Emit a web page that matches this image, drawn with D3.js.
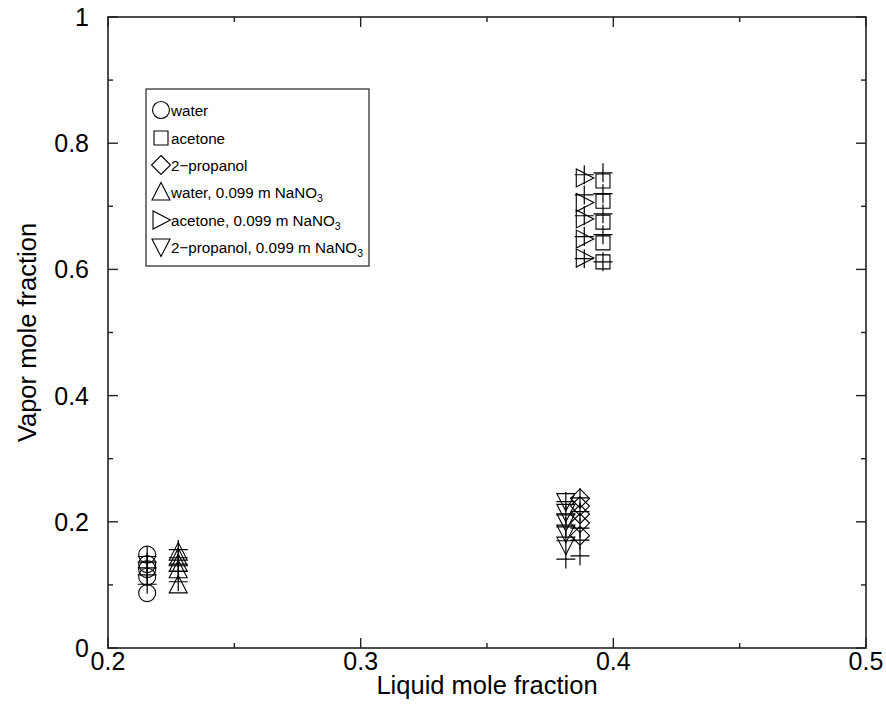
<!DOCTYPE html>
<html>
<head>
<meta charset="utf-8">
<script src="https://cdn.jsdelivr.net/npm/d3@7"></script>
<style>
  html, body { margin: 0; padding: 0; background: #fff; }
  svg { display: block; font-family: "Liberation Sans", Arial, Helvetica, sans-serif; }
</style>
</head>
<body>
<svg id="chart" width="886" height="727"></svg>
<script>
// Axis ticks
const xMajorTicks = [0.2, 0.3, 0.4, 0.5];
const xMinorTicks = [0.25, 0.35, 0.45];
const yMajorTicks = [0, 0.2, 0.4, 0.6, 0.8, 1];
const yMinorTicks = [0.1, 0.3, 0.5, 0.7, 0.9];

// Measured series: [liquid mole fraction, vapor mole fraction]
const seriesNames = ["water", "acetone", "2\u2212propanol",
  "water, 0.099 m NaNO", "acetone, 0.099 m NaNO", "2\u2212propanol, 0.099 m NaNO"];
const seriesSubscript = ["", "", "", "3", "3", "3"];
const seriesSymbols = ["circle", "square", "diamond", "triUp", "triRight", "triDown"];

const waterX = [0.2155, 0.2155, 0.2155, 0.2155, 0.2155];
const waterY = [0.148, 0.133, 0.125, 0.113, 0.087];
const acetoneX = [0.3959, 0.3959, 0.3959, 0.3959, 0.3959];
const acetoneY = [0.740, 0.708, 0.675, 0.642, 0.612];
const propanolX = [0.3868, 0.3868, 0.3868, 0.3868, 0.3868];
const propanolY = [0.237, 0.225, 0.212, 0.198, 0.178];
const waterSaltX = [0.2278, 0.2278, 0.2278, 0.2278, 0.2278];
const waterSaltY = [0.152, 0.143, 0.134, 0.124, 0.100];
const acetoneSaltX = [0.3885, 0.3885, 0.3885, 0.3885, 0.3885];
const acetoneSaltY = [0.745, 0.706, 0.680, 0.648, 0.618];
const propanolSaltX = [0.3812, 0.3812, 0.3812, 0.3812, 0.3812];
const propanolSaltY = [0.232, 0.215, 0.200, 0.182, 0.163];

// Companion points drawn with "+" markers
const waterPlusY = [0.145, 0.136, 0.127, 0.116, 0.101];
const acetonePlusY = [0.753, 0.720, 0.688, 0.655, 0.612];
const propanolPlusY = [0.238, 0.216, 0.190, 0.171, 0.146];
const waterSaltPlusY = [0.156, 0.143, 0.133, 0.122, 0.105];
const acetoneSaltPlusY = [0.750, 0.718, 0.685, 0.652, 0.617];
const propanolSaltPlusY = [0.232, 0.211, 0.192, 0.170, 0.141];

const seriesX = [waterX, acetoneX, propanolX, waterSaltX, acetoneSaltX, propanolSaltX];
const seriesY = [waterY, acetoneY, propanolY, waterSaltY, acetoneSaltY, propanolSaltY];
const plusY = [waterPlusY, acetonePlusY, propanolPlusY, waterSaltPlusY, acetoneSaltPlusY, propanolSaltPlusY];

const svg = d3.select("#chart");
const plotLeft = 108, plotRight = 866, plotTop = 17, plotBottom = 648;

const x = d3.scaleLinear().domain([0.2, 0.5]).range([plotLeft, plotRight]);
const y = d3.scaleLinear().domain([0, 1]).range([plotBottom, plotTop]);

// Symbol path builders, centred on (0,0)
function symbolPath(kind) {
  const p = d3.path();
  if (kind === "circle") {
    p.arc(0, 0, 8.5, 0, 2 * Math.PI);
  } else if (kind === "square") {
    p.rect(-7, -7, 14, 14);
  } else if (kind === "diamond") {
    p.moveTo(0, -9.5); p.lineTo(9.5, 0); p.lineTo(0, 9.5); p.lineTo(-9.5, 0); p.closePath();
  } else if (kind === "triUp") {
    p.moveTo(0, -9.5); p.lineTo(9, 8); p.lineTo(-9, 8); p.closePath();
  } else if (kind === "triDown") {
    p.moveTo(0, 9.5); p.lineTo(9, -8); p.lineTo(-9, -8); p.closePath();
  } else if (kind === "triRight") {
    p.moveTo(9.5, 0); p.lineTo(-8, 9); p.lineTo(-8, -9); p.closePath();
  } else if (kind === "plus") {
    p.moveTo(-9.5, 0); p.lineTo(9.5, 0); p.moveTo(0, -9.5); p.lineTo(0, 9.5);
  }
  return p.toString();
}

// Plot frame
const axisColor = "#222";
svg.append("rect")
  .attr("x", plotLeft).attr("y", plotTop)
  .attr("width", plotRight - plotLeft).attr("height", plotBottom - plotTop)
  .attr("fill", "none").attr("stroke", axisColor).attr("stroke-width", 1.6);

// Inward ticks on all four sides
function xTicks(vals, len) {
  vals.forEach(v => {
    svg.append("line").attr("x1", x(v)).attr("x2", x(v))
      .attr("y1", plotBottom).attr("y2", plotBottom - len)
      .attr("stroke", axisColor).attr("stroke-width", 1.4);
    svg.append("line").attr("x1", x(v)).attr("x2", x(v))
      .attr("y1", plotTop).attr("y2", plotTop + len)
      .attr("stroke", axisColor).attr("stroke-width", 1.4);
  });
}
function yTicks(vals, len) {
  vals.forEach(v => {
    svg.append("line").attr("x1", plotLeft).attr("x2", plotLeft + len)
      .attr("y1", y(v)).attr("y2", y(v))
      .attr("stroke", axisColor).attr("stroke-width", 1.4);
    svg.append("line").attr("x1", plotRight).attr("x2", plotRight - len)
      .attr("y1", y(v)).attr("y2", y(v))
      .attr("stroke", axisColor).attr("stroke-width", 1.4);
  });
}
xTicks(xMajorTicks, 10); xTicks(xMinorTicks, 5);
yTicks(yMajorTicks, 10); yTicks(yMinorTicks, 5);

// Tick labels
const fmt = v => String(v);
svg.selectAll(".xlab").data(xMajorTicks).enter().append("text")
  .attr("x", d => x(d)).attr("y", 670)
  .attr("text-anchor", "middle").attr("font-size", 25).attr("fill", "#000")
  .text(fmt);
svg.selectAll(".ylab").data(yMajorTicks).enter().append("text")
  .attr("x", 89).attr("y", d => y(d) + 9)
  .attr("text-anchor", "end").attr("font-size", 25).attr("fill", "#000")
  .text(fmt);

// Axis titles
svg.append("text").attr("x", (plotLeft + plotRight) / 2).attr("y", 694)
  .attr("text-anchor", "middle").attr("font-size", 25.5).text("Liquid mole fraction");
svg.append("text")
  .attr("transform", `translate(36,${(plotTop + plotBottom) / 2}) rotate(-90)`)
  .attr("text-anchor", "middle").attr("font-size", 25.5).text("Vapor mole fraction");

// "+" companion markers
const plot = svg.append("g");
seriesX.forEach((xs, i) => {
  plot.selectAll(null).data(plusY[i].map((v, j) => [xs[j], v])).enter()
    .append("path")
    .attr("d", symbolPath("plus"))
    .attr("transform", d => `translate(${x(d[0])},${y(d[1])})`)
    .attr("fill", "none").attr("stroke", "#000").attr("stroke-width", 1.2);
});

// Measured points
seriesX.forEach((xs, i) => {
  plot.selectAll(null).data(seriesY[i].map((v, j) => [xs[j], v])).enter()
    .append("path")
    .attr("d", symbolPath(seriesSymbols[i]))
    .attr("transform", d => `translate(${x(d[0])},${y(d[1])})`)
    .attr("fill", "none").attr("stroke", "#000").attr("stroke-width", 1.1);
});

// Legend
const legend = svg.append("g");
legend.append("rect").attr("x", 146).attr("y", 89).attr("width", 223).attr("height", 177)
  .attr("fill", "#fff").attr("stroke", "#333").attr("stroke-width", 1.3);
const rowY = [110, 138, 165, 192, 220, 247];
seriesNames.forEach((name, i) => {
  legend.append("path").attr("d", symbolPath(seriesSymbols[i]))
    .attr("transform", `translate(161,${rowY[i]})`)
    .attr("fill", "none").attr("stroke", "#000").attr("stroke-width", 1.1);
  const t = legend.append("text").attr("x", 171).attr("y", rowY[i] + 6)
    .attr("font-size", 15.2).attr("fill", "#000").text(name);
  if (seriesSubscript[i]) {
    t.append("tspan").attr("font-size", 10.5).attr("dy", 4).text(seriesSubscript[i]);
  }
});
</script>
</body>
</html>
